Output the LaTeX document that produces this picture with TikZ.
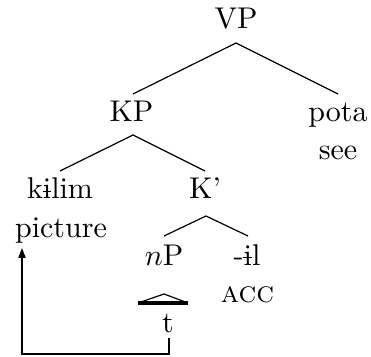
\documentclass[tikz,border=0pt]{standalone}
\usetikzlibrary{calc,arrows.meta}
\newcommand\bari{\ooalign{i\cr\hidewidth\rule[2.2pt]{2.9pt}{0.4pt}\hidewidth\cr}}
\tikzset{
  lab/.style={inner sep=0pt, anchor=base},
  branch/.style={line width=0.4pt},
  movearrow/.style={line width=0.4pt, -{Triangle[length=3.3pt,width=2.4pt]}},
}
\begin{document}
\begin{tikzpicture}[x=0.33333pt,y=-0.33333pt]
\useasboundingbox (0,0) rectangle (371,356);
\node[lab] (VP) at (236,29) {VP};
\node[lab] (KP) at (131.5,122) {KP};
\node[lab] (pota) at (338,122) {pota};
\node[lab] (see) at (338,160) {see};
\node[lab] (kilim) at (60,199) {k\bari lim};
\node[lab] (Kbar) at (205,199) {K'};
\node[lab] (picture) at (61,237) {picture};
\node[lab] (nP) at (164,265) {$n$P};
\node[lab] (il) at (247,265) {-\bari l};
\node[lab] (acc) at (247.5,302) {\textsc{acc}};
\node[lab] (t) at (168,332) {t};
% branches
\draw[branch] ($(KP.base)+(1.5,-28)$) -- ($(VP.base)+(0,14)$) -- ($(pota.base)+(0,-28)$);
\draw[branch] ($(kilim.base)+(0,-28)$) -- ($(KP.base)+(1.5,13)$) -- ($(Kbar.base)+(0,-28)$);
\draw[branch] ($(nP.base)+(0,-29)$) -- ($(Kbar.base)+(1,17)$) -- ($(il.base)+(1,-29)$);
% triangle
\draw[branch] ($(nP.base)+(-26,38)$) -- ($(nP.base)+(0,29)$) -- ($(nP.base)+(24,38)$);
\draw[line width=1.1pt] ($(nP.base)+(-26,38)$) -- ($(nP.base)+(24,38)$);
% movement
\draw[movearrow] ($(t.base)+(1,6)$) -- ++(0,16) -| ($(picture.base)+(-39,11)$);
\end{tikzpicture}
\end{document}
